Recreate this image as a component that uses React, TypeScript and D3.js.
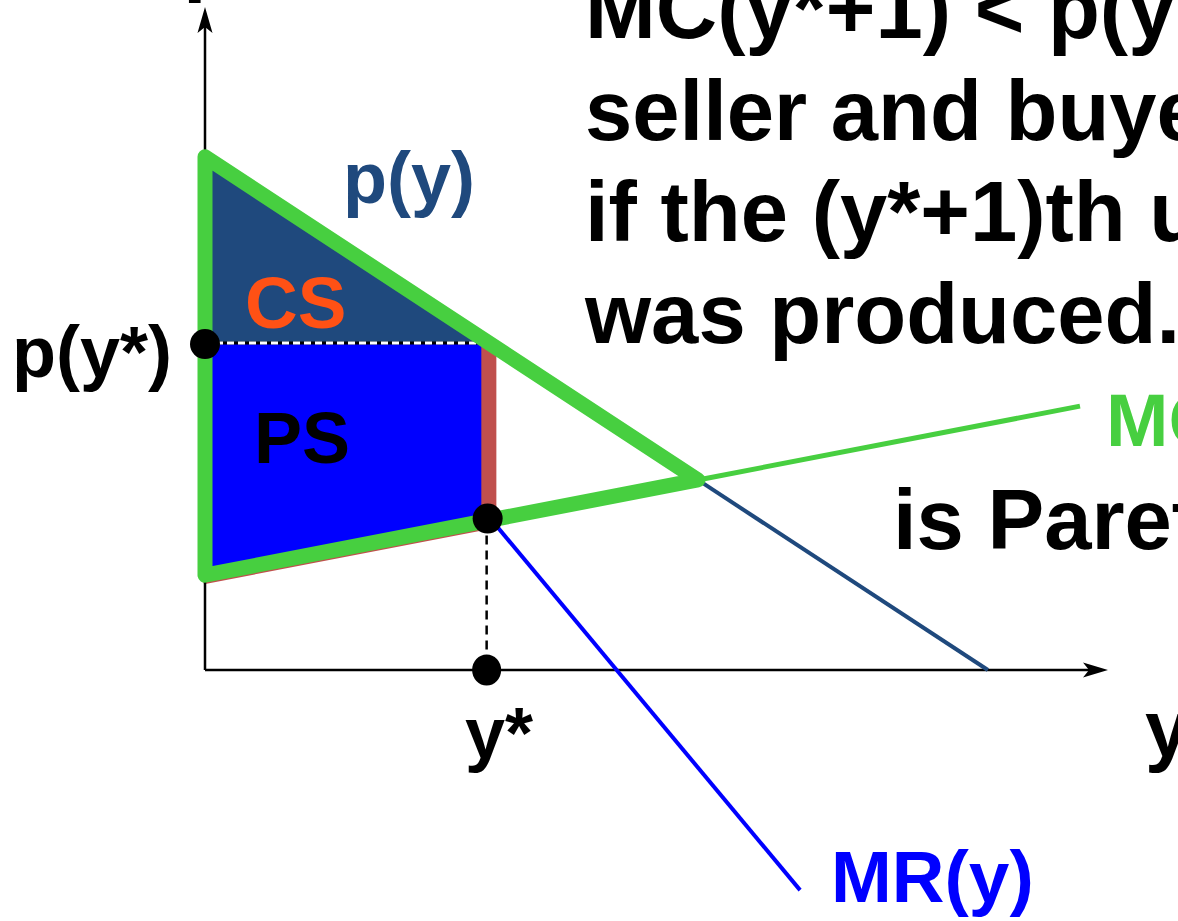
import React from "react";
import * as d3 from "d3";

// ---- data (in chart units) ----
const quantityDomain: [number, number] = [0, 100];
const priceDomain: [number, number] = [0, 100];
const demandPts: [number, number][] = [[0, 77.4], [86.7, 0]];
const mcPts: [number, number][] = [[0, 14.3], [96.9, 39.8]];
const mrPts: [number, number][] = [[31.45, 23.1], [65.9, -33.2]];
const yStar = 31.3;
const areaEdge = 30.6;
const nextUnitEdge = 32.1;

const paragraphLines = [
  "MC(y*+1) < p(y*+1), so both",
  "seller and buyer could gain",
  "if the (y*+1)th unit of output",
  "was produced. Hence the",
];
const paretoText = "is Pareto inefficient.";
const labels = {
  demand: "p(y)",
  cs: "CS",
  ps: "PS",
  pStar: "p(y*)",
  yStar: "y*",
  mr: "MR(y)",
  mc: "MC(y)",
  xAxis: "y",
  yAxis: "p",
};

const W = 1178;
const H = 921;
const FONT = "'Liberation Sans', Arial, Helvetica, sans-serif";
const GREEN = "#47CF40";
const DARKBLUE = "#1F497D";
const BLUE = "#0000FF";
const RED = "#C0504D";
const ORANGE = "#FF5115";

function lineAt(pts: [number, number][], q: number) {
  const [[x0, y0], [x1, y1]] = pts;
  return y0 + ((y1 - y0) * (q - x0)) / (x1 - x0);
}
function slope(pts: [number, number][]) {
  const [[x0, y0], [x1, y1]] = pts;
  return (y1 - y0) / (x1 - x0);
}

export default function App() {
  const x = d3.scaleLinear().domain(quantityDomain).range([205, 1108]);
  const y = d3.scaleLinear().domain(priceDomain).range([670, 7]);

  const dS = slope(demandPts);
  const mS = slope(mcPts);
  const d0 = lineAt(demandPts, 0);
  const m0 = lineAt(mcPts, 0);
  const qCross = (m0 - d0) / (dS - mS);
  const pCross = lineAt(demandPts, qCross);
  const pStar = lineAt(demandPts, yStar);

  const line = d3
    .line<[number, number]>()
    .x((d) => x(d[0]))
    .y((d) => y(d[1]));
  const poly = (pts: [number, number][]) => line(pts) + "Z";

  const redPoly: [number, number][] = [
    [0, d0],
    [nextUnitEdge, lineAt(demandPts, nextUnitEdge)],
    [nextUnitEdge, lineAt(mcPts, nextUnitEdge) - 1.1],
    [0, m0 - 1.1],
  ];
  const csPoly: [number, number][] = [
    [0, d0],
    [areaEdge, lineAt(demandPts, areaEdge)],
    [areaEdge, pStar],
    [0, pStar],
  ];
  const psPoly: [number, number][] = [
    [0, pStar],
    [areaEdge, pStar],
    [areaEdge, lineAt(mcPts, areaEdge)],
    [0, m0],
  ];
  const greenTri: [number, number][] = [
    [0, m0],
    [0, d0],
    [qCross, pCross],
  ];

  const xEnd = x(quantityDomain[1]);
  const yTop = y(priceDomain[1]);
  const x0 = x(0);
  const yBase = y(0);

  return (
    <svg
      width={W}
      height={H}
      viewBox={`0 0 ${W} ${H}`}
      style={{ position: "absolute", left: 0, top: 0, background: "#fff" }}
      fontFamily={FONT}
      fontWeight="bold"
    >
      <rect width={W} height={H} fill="#fff" />
      {/* areas */}
      <path d={poly(redPoly)} fill={RED} stroke={RED} strokeWidth={3} strokeLinejoin="round" />
      <path d={poly(csPoly)} fill={DARKBLUE} />
      <path d={poly(psPoly)} fill={BLUE} />
      <line x1={x0} x2={x(areaEdge)} y1={y(pStar) + 1} y2={y(pStar) + 1} stroke="#000" strokeWidth={3} />
      <line x1={x0} x2={x(areaEdge)} y1={y(pStar) + 1} y2={y(pStar) + 1} stroke="#fff" strokeWidth={3} strokeDasharray="7 4" />

      {/* axes */}
      <line x1={x0} x2={x0} y1={yBase} y2={yTop + 20} stroke="#000" strokeWidth={2.5} />
      <path d={`M${x0},${yTop} L${x0 + 7.5},${yTop + 26} L${x0},${yTop + 20} L${x0 - 7.5},${yTop + 26} Z`} fill="#000" />
      <line x1={x0} x2={xEnd - 18} y1={yBase} y2={yBase} stroke="#000" strokeWidth={2.5} />
      <path d={`M${xEnd},${yBase} L${xEnd - 25},${yBase - 7.5} L${xEnd - 19},${yBase} L${xEnd - 25},${yBase + 7.5} Z`} fill="#000" />

      {/* thin curves */}
      <path d={line([[qCross, pCross], demandPts[1]])!} stroke={DARKBLUE} strokeWidth={4} fill="none" />
      <path d={line([[qCross, pCross], mcPts[1]])!} stroke={GREEN} strokeWidth={5} fill="none" />
      <path d={line(mrPts)!} stroke={BLUE} strokeWidth={4} fill="none" />

      {/* thick green triangle */}
      <path d={poly(greenTri)} fill="none" stroke={GREEN} strokeWidth={15} strokeLinejoin="round" strokeLinecap="round" />

      {/* dashed drop line */}
      <line x1={x(yStar) - 1} x2={x(yStar) - 1} y1={y(lineAt(mcPts, yStar))} y2={yBase} stroke="#000" strokeWidth={2.5} strokeDasharray="9 6" />

      {/* dots */}
      <circle cx={x0} cy={y(pStar) + 2} r={15} fill="#000" />
      <circle cx={x(yStar)} cy={y(lineAt(mcPts, yStar)) - 2} r={15} fill="#000" />
      <ellipse cx={x(yStar) - 1} cy={yBase} rx={14.5} ry={15.5} fill="#000" />

      {/* texts */}
      <text x={183} y={-15} fontSize={85} fill="#000">{labels.yAxis}</text>
      <text x={343} y={203} fontSize={72} fill={DARKBLUE}>{labels.demand}</text>
      <text x={245} y={328} fontSize={73} fill={ORANGE}>{labels.cs}</text>
      <text x={254} y={463} fontSize={72} fill="#000">{labels.ps}</text>
      <text x={12} y={377} fontSize={72} fill="#000">{labels.pStar}</text>
      <text x={465} y={758} fontSize={72} fill="#000">{labels.yStar}</text>
      <text x={831} y={902} fontSize={73} fill={BLUE}>{labels.mr}</text>
      <text x={1106} y={446} fontSize={75} fill={GREEN}>{labels.mc}</text>
      <text x={1145} y={756} fontSize={80} fill="#000">{labels.xAxis}</text>
      <text x={893} y={549} fontSize={85} fill="#000">{paretoText}</text>
      {paragraphLines.map((t, i) => (
        <text key={i} x={585} y={38 + i * 101.7} fontSize={85} fill="#000">{t}</text>
      ))}
    </svg>
  );
}
